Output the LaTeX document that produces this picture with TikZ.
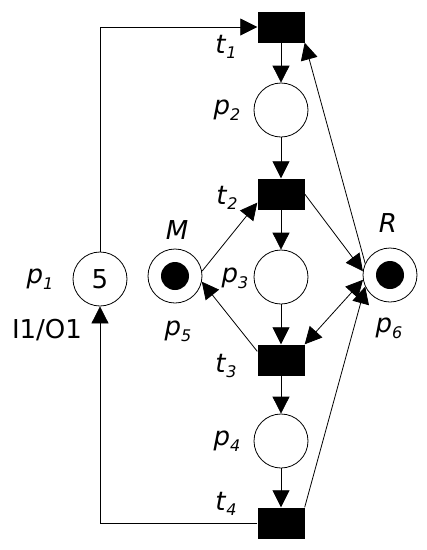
\documentclass[tikz,border=0pt]{standalone}
\usepackage{fontspec}
\setmainfont{DejaVu Sans}
\usepackage{tikz}
\usetikzlibrary{shapes,arrows,positioning,fit,calc,arrows.meta}

\newcommand{\pn}[2]{\textit{#1}\raisebox{-0.4ex}{\fontsize{16}{16}\selectfont\itshape #2}}

\tikzset{
    place/.style={circle, draw, line width=0.8pt, minimum size=54pt, inner sep=0pt},
    marked/.style={place, path picture={\fill (path picture bounding box.center) circle (14pt);}},
    transition/.style={rectangle, fill=black, minimum width=47pt, minimum height=31pt, inner sep=0pt},
    arc/.style={-{Triangle[length=17pt,width=17pt]}, line width=0.8pt},
    lbl/.style={font=\fontsize{26}{30}\selectfont, inner sep=0pt}
}

\begin{document}
\begin{tikzpicture}[x=1pt, y=-1pt]
    \useasboundingbox (0,0) rectangle (427,550);

    % Transitions
    \node[transition] (t1) at (281,27) {};
    \node[transition] (t2) at (281,194) {};
    \node[transition] (t3) at (281,360) {};
    \node[transition] (t4) at (281,523) {};

    % Places
    \node[place] (p1) at (100,279) {\fontsize{26}{30}\selectfont 5};
    \node[place] (p2) at (281,110) {};
    \node[place] (p3) at (281,277) {};
    \node[place] (p4) at (281,441) {};
    \node[marked] (p5) at (175,276) {};
    \node[marked] (p6) at (390,275) {};

    % Main chain
    \draw[arc] (t1) -- (p2);
    \draw[arc] (p2) -- (t2);
    \draw[arc] (t2) -- (p3);
    \draw[arc] (p3) -- (t3);
    \draw[arc] (t3) -- (p4);
    \draw[arc] (p4) -- (t4);

    % Loop through p1
    \draw[arc] (p1) |- (t1);
    \draw[arc] (t4) -| (p1);

    % Resource M
    \draw[arc] (p5.10) -- (t2.200);
    \draw[arc] (t3.160) -- (p5.-12);

    % Resource R
    \draw[arc] (p6.155) -- (t1.south east);
    \draw[arc] (t2.east) -- (p6.172);
    \draw[arc, {Triangle[length=17pt,width=17pt]}-{Triangle[length=17pt,width=17pt]}] (t3.north east) -- (p6.190);
    \draw[arc] (t4.north east) -- (p6.205);

    % Labels
    \node[lbl] (lt1) at (226,47) {\pn{t}{1}};
    \node[lbl] (lp2) at (227,110) {\pn{p}{2}};
    \node[lbl] (lt2) at (227,198) {\pn{t}{2}};
    \node[lbl] (lp3) at (235,278) {\pn{p}{3}};
    \node[lbl] (lt3) at (226,366) {\pn{t}{3}};
    \node[lbl] (lp4) at (227,441) {\pn{p}{4}};
    \node[lbl] (lt4) at (226,504) {\pn{t}{4}};
    \node[lbl] (lp1) at (40,279) {\pn{p}{1}};
    \node[lbl] (lio) at (47,330) {I1/O1};
    \node[lbl] (lM) at (177,230) {\textit{M}};
    \node[lbl] (lR) at (388,223) {\textit{R}};
    \node[lbl] (lp5) at (178,331) {\pn{p}{5}};
    \node[lbl] (lp6) at (389,328) {\pn{p}{6}};
\end{tikzpicture}
\end{document}
